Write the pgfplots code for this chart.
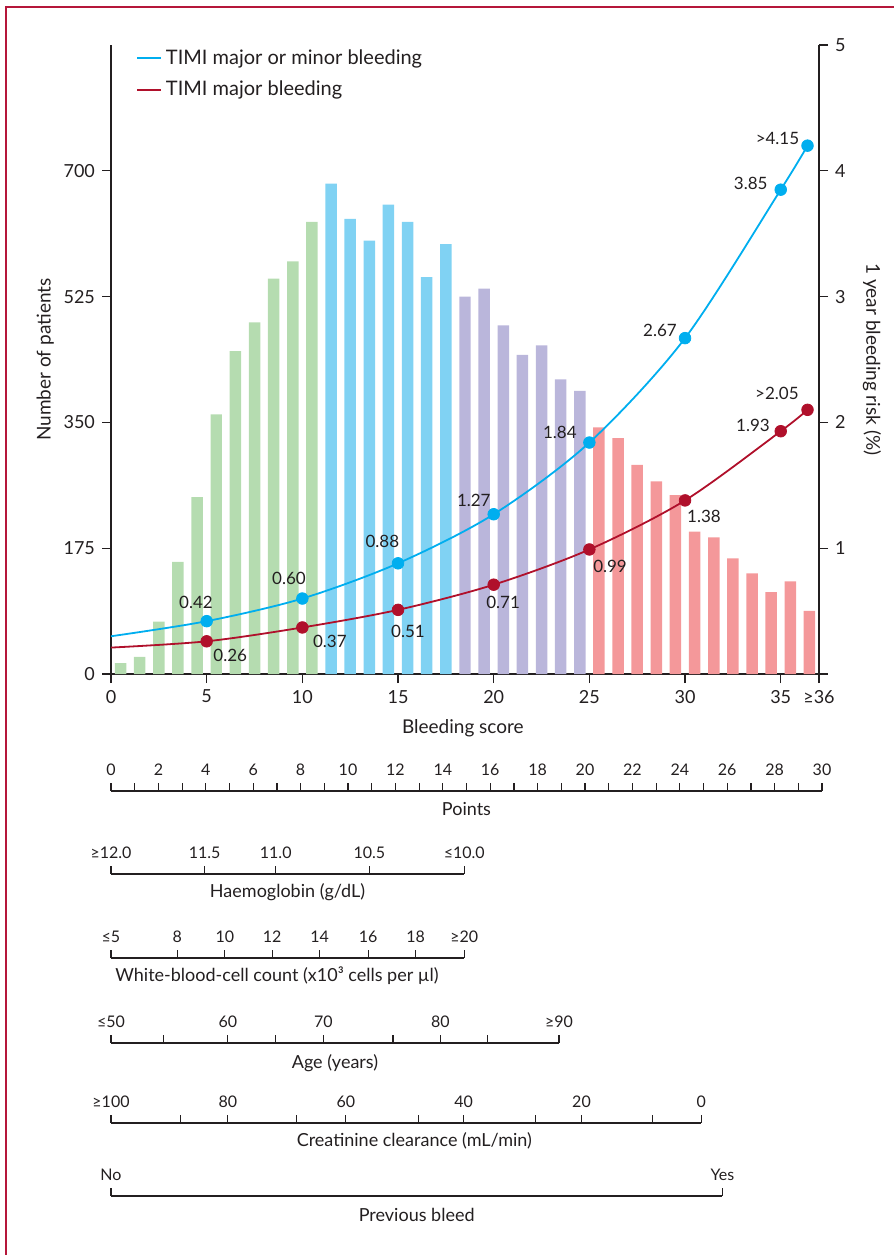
\documentclass[border=0pt]{standalone}
\usepackage{fontspec}
\setmainfont{Lato}
\usepackage{pgfplots}
\pgfplotsset{compat=1.18}

\definecolor{bgreen}{RGB}{181,220,176}
\definecolor{bblue}{RGB}{128,210,243}
\definecolor{bpurple}{RGB}{186,182,219}
\definecolor{bred}{RGB}{244,152,154}
\definecolor{lcyan}{RGB}{0,174,239}
\definecolor{lred}{RGB}{176,16,43}
\definecolor{frame}{RGB}{181,23,58}
\definecolor{ink}{RGB}{35,31,32}

\pgfplotsset{
  nomo/.style={
    scale only axis, height=10pt, ymin=0, ymax=1,
    hide y axis, axis x line*=top, tick align=outside, major tick length=4pt,
    x axis line style={ink, line width=0.7pt},
    tick style={ink, line width=0.6pt},
    xticklabel style={font=\fontsize{8}{9}\selectfont, text=ink},
    clip=false,
  }
}

\begin{document}
\begin{tikzpicture}
\useasboundingbox (0,0) rectangle (447pt,-627.5pt);
\draw[color=frame, line width=1.3pt] (3pt,-627.5pt) -- (3pt,-3.5pt) -- (447pt,-3.5pt);

% ---------------- bars (left axis) ----------------
\begin{axis}[
  at={(55.5pt,-337pt)}, anchor=south west,
  scale only axis, width=354pt, height=314.5pt,
  xmin=0, xmax=37, ymin=0, ymax=875,
  axis y line*=left, axis x line*=bottom,
  xtick={0,5,10,15,20,25,30,35,37},
  xticklabels={0,5,10,15,20,25,30,35,≥36},
  ytick={0,175,350,525,700},
  /pgf/number format/assume math mode=true,
  tick align=outside, major tick length=4.5pt,
  tick style={ink, line width=0.6pt},
  axis line style={ink, line width=0.7pt},
  x axis line style={shorten >=-4.5pt},
  tick label style={font=\fontsize{9}{10}\selectfont, text=ink},
  label style={font=\fontsize{9.5}{11}\selectfont, text=ink},
  xlabel={Bleeding score},
  ylabel={Number of patients},
  xlabel style={at={(axis description cs:0.497,-0.086)}, anchor=center},
  ylabel style={at={(axis description cs:-0.093,0.5)}, anchor=center},
]
\addplot[ybar, bar width=0.6, bar shift=0pt, fill=bgreen, draw=none] coordinates {
 (0.5,15) (1.5,24) (2.5,73) (3.5,156) (4.5,246) (5.5,361) (6.5,449) (7.5,489) (8.5,550) (9.5,574) (10.5,629)};
\addplot[ybar, bar width=0.6, bar shift=0pt, fill=bblue, draw=none] coordinates {
 (11.5,682) (12.5,633) (13.5,603) (14.5,653) (15.5,629) (16.5,552) (17.5,598)};
\addplot[ybar, bar width=0.6, bar shift=0pt, fill=bpurple, draw=none] coordinates {
 (18.5,525) (19.5,536) (20.5,485) (21.5,444) (22.5,457) (23.5,410) (24.5,394)};
\addplot[ybar, bar width=0.6, bar shift=0pt, fill=bred, draw=none] coordinates {
 (25.5,343) (26.5,328) (27.5,291) (28.5,268) (29.5,249) (30.5,198) (31.5,190) (32.5,161) (33.5,140) (34.5,114) (35.5,129) (36.5,88)};
\end{axis}

% ---------------- risk curves (right axis) ----------------
\begin{axis}[
  at={(55.5pt,-337pt)}, anchor=south west,
  scale only axis, width=354pt, height=314.5pt,
  xmin=0, xmax=37, ymin=0, ymax=5,
  axis y line*=right, axis x line=none,
  ytick={1,2,3,4,5},
  /pgf/number format/assume math mode=true,
  tick align=outside, major tick length=4.5pt,
  tick style={ink, line width=0.6pt},
  axis line style={ink, line width=0.7pt},
  tick label style={font=\fontsize{9}{10}\selectfont, text=ink},
  label style={font=\fontsize{9.5}{11}\selectfont, text=ink},
  ylabel={1 year bleeding risk (\%)},
  ylabel style={at={(axis description cs:1.075,0.5)}, anchor=center, rotate=180},
  clip=false,
  legend image code/.code={\draw[#1] (0pt,0pt) -- (12pt,0pt);},
  legend cell align=left,
  legend style={at={(axis description cs:0.035,1.0)}, anchor=north west,
    draw=none, fill=none, inner sep=0pt, row sep=3pt,
    font=\fontsize{10}{12}\selectfont, text=ink},
]
\addplot[lcyan, smooth, line width=0.9pt] coordinates {
 (0,0.30) (5,0.42) (10,0.60) (15,0.88) (20,1.27) (25,1.84) (30,2.67) (35,3.85) (36.4,4.2)};
\addlegendentry{TIMI major or minor bleeding}
\addplot[lred, smooth, line width=0.9pt] coordinates {
 (0,0.21) (5,0.26) (10,0.37) (15,0.51) (20,0.71) (25,0.99) (30,1.38) (35,1.93) (36.4,2.1)};
\addlegendentry{TIMI major bleeding}
\addplot[only marks, mark=*, mark size=2.9pt, lcyan, forget plot] coordinates {
 (5,0.42) (10,0.60) (15,0.88) (20,1.27) (25,1.84) (30,2.67) (35,3.85) (36.4,4.2)};
\addplot[only marks, mark=*, mark size=2.9pt, lred, forget plot] coordinates {
 (5,0.26) (10,0.37) (15,0.51) (20,0.71) (25,0.99) (30,1.38) (35,1.93) (36.4,2.1)};
\begin{scope}[font=\fontsize{8.5}{10}\selectfont, text=ink]
\node at (axis cs:4.44,0.566) {0.42};
\node at (axis cs:9.3,0.757) {0.60};
\node at (axis cs:14.18,1.053) {0.88};
\node at (axis cs:18.96,1.38) {1.27};
\node at (axis cs:23.46,1.924) {1.84};
\node at (axis cs:28.69,2.732) {2.67};
\node at (axis cs:33.43,3.896) {3.85};
\node at (axis cs:34.83,4.26) {>4.15};
\node at (axis cs:6.23,0.146) {0.26};
\node at (axis cs:11.44,0.256) {0.37};
\node at (axis cs:15.52,0.34) {0.51};
\node at (axis cs:20.49,0.567) {0.71};
\node at (axis cs:26.08,0.855) {0.99};
\node at (axis cs:30.99,1.253) {1.38};
\node at (axis cs:33.55,1.979) {1.93};
\node at (axis cs:34.8,2.227) {>2.05};
\end{scope}
\end{axis}

% ---------------- nomogram scales ----------------
\begin{axis}[nomo, at={(55.5pt,-395.5pt)}, anchor=north west, width=355.5pt,
  xmin=0, xmax=30, xtick={0,...,30},
  xticklabels={0,,2,,4,,6,,8,,10,,12,,14,,16,,18,,20,,22,,24,,26,,28,,30}]
\node[font=\fontsize{9}{11}\selectfont, text=ink] at (rel axis cs:0.5,1) [yshift=-9pt] {Points};
\end{axis}

\begin{axis}[nomo, at={(55.5pt,-437pt)}, anchor=north west, width=176.6pt,
  xmin=0, xmax=14.9, xtick={0,3.95,6.95,10.9,14.9},
  xticklabels={≥12.0,11.5,11.0,10.5,≤10.0}]
\node[font=\fontsize{9}{11}\selectfont, text=ink] at (rel axis cs:0.5,1) [yshift=-9pt] {Haemoglobin (g/dL)};
\end{axis}

\begin{axis}[nomo, at={(55.5pt,-479pt)}, anchor=north west, width=176.6pt,
  xmin=0, xmax=14.9, xtick={0,2.8,4.8,6.8,8.8,10.85,12.85,14.9},
  xticklabels={≤5,8,10,12,14,16,18,≥20}]
\node[font=\fontsize{9}{11}\selectfont, text=ink] at (rel axis cs:0.47,1) [yshift=-9pt] {White-blood-cell count (x10³ cells per µl)};
\end{axis}

\begin{axis}[nomo, at={(55.5pt,-521.5pt)}, anchor=north west, width=224pt,
  xmin=0, xmax=18.9, xtick={0,2.2,4.93,6.95,8.96,11.9,13.9,15.9,18.9},
  xticklabels={≤50,,60,,70,,80,,≥90}]
\node[font=\fontsize{9}{11}\selectfont, text=ink] at (rel axis cs:0.5,1) [yshift=-10pt] {Age (years)};
\end{axis}

\begin{axis}[nomo, at={(55.5pt,-561.5pt)}, anchor=north west, width=295.1pt,
  xmin=0, xmax=24.9, xtick={0,2.93,4.93,7.82,9.91,12.96,14.88,17.9,19.85,22.85,24.9},
  xticklabels={≥100,,80,,60,,40,,20,,0}]
\node[font=\fontsize{9}{11}\selectfont, text=ink] at (rel axis cs:0.514,1) [yshift=-9pt] {Creatinine clearance (mL/min)};
\end{axis}

\begin{axis}[nomo, at={(55.5pt,-598pt)}, anchor=north west, width=305.7pt,
  xmin=0, xmax=25.8, xtick={0,25.8},
  xticklabels={No,Yes}]
\node[font=\fontsize{9}{11}\selectfont, text=ink] at (rel axis cs:0.5,1) [yshift=-9.5pt] {Previous bleed};
\end{axis}

\end{tikzpicture}
\end{document}
